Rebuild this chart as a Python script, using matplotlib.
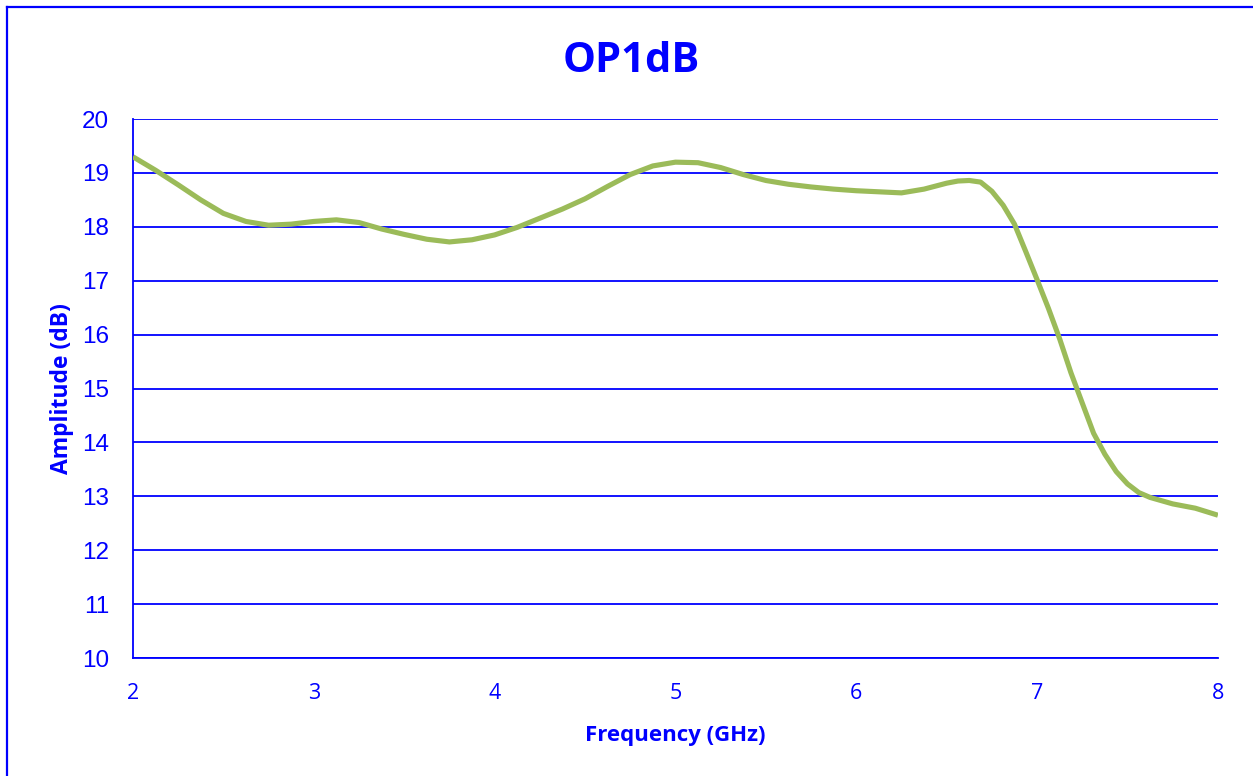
import matplotlib
matplotlib.use("Agg")
import matplotlib.pyplot as plt
from matplotlib.lines import Line2D

BLUE = "#0000FF"
GREEN = "#9BBB59"

# frequency (GHz) and OP1dB (dB)
freq = [2.0, 2.125, 2.25, 2.375, 2.5, 2.625, 2.75, 2.875, 3.0, 3.125, 3.25,
        3.375, 3.5, 3.625, 3.75, 3.875, 4.0, 4.125, 4.25, 4.375, 4.5, 4.625,
        4.75, 4.875, 5.0, 5.125, 5.25, 5.375, 5.5, 5.625, 5.75, 5.875, 6.0,
        6.125, 6.25, 6.375, 6.5, 6.5625, 6.625, 6.6875, 6.75, 6.8125, 6.875,
        6.9375, 7.0, 7.0625, 7.125, 7.1875, 7.25, 7.3125, 7.375, 7.4375, 7.5,
        7.5625, 7.625, 7.75, 7.875, 8.0]
op1db = [19.30, 19.05, 18.78, 18.50, 18.25, 18.10, 18.03, 18.05, 18.10, 18.13,
         18.08, 17.96, 17.86, 17.77, 17.72, 17.76, 17.85, 17.99, 18.16, 18.33,
         18.52, 18.75, 18.97, 19.13, 19.20, 19.19, 19.10, 18.97, 18.86, 18.79,
         18.74, 18.70, 18.67, 18.65, 18.63, 18.70, 18.81, 18.85, 18.86, 18.83,
         18.66, 18.40, 18.05, 17.54, 17.02, 16.49, 15.92, 15.29, 14.73, 14.17,
         13.78, 13.46, 13.23, 13.07, 12.98, 12.86, 12.78, 12.65]

x_ticks = [2, 3, 4, 5, 6, 7, 8]
y_ticks = list(range(10, 21))

fig = plt.figure(figsize=(12.53, 7.76), dpi=100)
ax = fig.add_axes([0.1061, 0.152, 0.8659, 0.6946])

ax.plot(freq, op1db, color=GREEN, lw=3.7, solid_joinstyle="round",
        solid_capstyle="butt", zorder=3)

ax.set_xlim(2, 8)
ax.set_ylim(10, 20)
ax.set_xticks(x_ticks)
ax.set_yticks(y_ticks)
ax.yaxis.grid(True, color=BLUE, lw=1.3)
ax.set_axisbelow(True)

for s in ("top", "right"):
    ax.spines[s].set_visible(False)
for s in ("left", "bottom"):
    ax.spines[s].set_color(BLUE)
    ax.spines[s].set_linewidth(1.3)

ax.tick_params(axis="both", length=0, colors=BLUE)
ax.tick_params(axis="y", pad=17)
ax.tick_params(axis="x", pad=18)
for lab in ax.get_yticklabels():
    lab.set_fontfamily("Liberation Sans")
    lab.set_fontsize(17.5)
for lab in ax.get_xticklabels():
    lab.set_fontfamily("Open Sans")
    lab.set_fontsize(15.5)

ax.set_xlabel("Frequency (GHz)", fontfamily="Open Sans", fontweight="bold",
              fontsize=16, color=BLUE, labelpad=15)
ax.set_ylabel("Amplitude (dB)", fontfamily="Open Sans", fontweight="bold",
              fontsize=16.5, color=BLUE, labelpad=6)

fig.text(0.504, 0.921, "OP1dB", ha="center", va="center",
         fontfamily="Open Sans", fontweight="bold", fontsize=30, color=BLUE)

# outer chart border (only left and top edges are visible in the crop)
fig.add_artist(Line2D([0.0056, 0.0056], [0, 0.991], transform=fig.transFigure,
                      color=BLUE, lw=1.6))
fig.add_artist(Line2D([0.0056, 1.0], [0.991, 0.991], transform=fig.transFigure,
                      color=BLUE, lw=1.6))

fig.savefig("out.png", dpi=100)
